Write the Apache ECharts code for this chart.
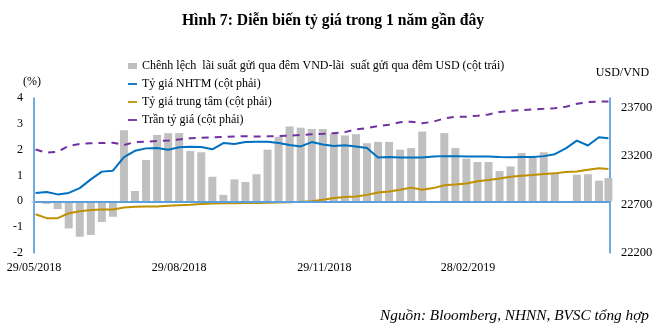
<!DOCTYPE html>
<html>
<head>
<meta charset="utf-8">
<script src="https://cdn.jsdelivr.net/npm/echarts@6/dist/echarts.min.js"></script>
<style>html,body{margin:0;padding:0;background:#fff}#c{width:666px;height:332px}</style>
</head>
<body>
<div id="c"></div>
<script>
// Weekly observations (mid-week dates)
const weeks = ['2018-05-30','2018-06-06','2018-06-13','2018-06-20','2018-06-27','2018-07-04','2018-07-11','2018-07-18','2018-07-25','2018-08-01','2018-08-08','2018-08-15','2018-08-22','2018-08-29','2018-09-05','2018-09-12','2018-09-19','2018-09-26','2018-10-03','2018-10-10','2018-10-17','2018-10-24','2018-10-31','2018-11-07','2018-11-14','2018-11-21','2018-11-28','2018-12-05','2018-12-12','2018-12-19','2018-12-26','2019-01-02','2019-01-09','2019-01-16','2019-01-23','2019-01-30','2019-02-06','2019-02-13','2019-02-20','2019-02-27','2019-03-06','2019-03-13','2019-03-20','2019-03-27','2019-04-03','2019-04-10','2019-04-17','2019-04-24','2019-05-01','2019-05-08','2019-05-15','2019-05-22','2019-05-28'];
// Spread, overnight VND rate minus overnight USD rate (%), left axis
const spread = [-0.06,-0.1,-0.3,-1.05,-1.37,-1.3,-0.8,-0.6,2.75,0.4,1.6,2.57,2.64,2.64,1.95,1.9,0.95,0.25,0.85,0.75,1.05,2.0,2.5,2.9,2.85,2.8,2.8,2.62,2.55,2.6,2.25,2.3,2.3,2.0,2.06,2.7,null,2.64,2.06,1.65,1.52,1.52,1.17,1.35,1.87,1.7,1.9,1.1,null,1.03,1.05,0.8,0.9];
// Commercial bank rate (right axis)
const nhtm = [22820,22830,22805,22820,22870,22960,23040,23050,23190,23255,23280,23285,23265,23292,23297,23295,23270,23335,23325,23345,23348,23349,23335,23315,23300,23345,23320,23305,23312,23300,23285,23185,23190,23185,23185,23185,23195,23200,23200,23196,23196,23195,23190,23188,23190,23192,23200,23220,23280,23360,23310,23395,23385];
// Central rate (right axis)
const central = [22600,22560,22560,22610,22630,22645,22648,22650,22670,22678,22680,22680,22688,22693,22698,22705,22710,22713,22713,22715,22716,22718,22720,22724,22728,22735,22750,22768,22777,22784,22800,22825,22835,22852,22875,22852,22870,22900,22908,22918,22940,22953,22970,22988,22998,23005,23015,23022,23035,23042,23060,23074,23066];
// Ceiling rate (right axis)
const ceiling = [23268,23235,23245,23305,23325,23333,23335,23338,23315,23345,23350,23355,23360,23372,23384,23390,23394,23398,23403,23405,23402,23404,23407,23412,23418,23425,23430,23437,23448,23475,23490,23510,23525,23550,23555,23540,23555,23590,23605,23607,23618,23630,23655,23668,23675,23683,23688,23695,23710,23740,23758,23762,23765];
const xRange = ['2018-05-29','2019-05-29'];
const xTickDates = ['2018-05-29','2018-08-29','2018-11-29','2019-02-28'];
const leftTicks = {min:-2, max:4, interval:1};
const rightTicks = {min:22200, max:23800, interval:500};
const names = ['Chênh lệch  lãi suất gửi qua đêm VND-lãi  suất gửi qua đêm USD (cột trái)','Tỷ giá NHTM (cột phải)','Tỷ giá trung tâm (cột phải)','Trần tỷ giá (cột phải)'];

const FONT = 'Liberation Serif';
const ts = s => { const p = s.split('-').map(Number); return Date.UTC(p[0], p[1]-1, p[2]); };
const pair = arr => weeks.map((d,i)=>[ts(d), arr[i]]);
const pad = n => (n<10?'0':'')+n;
const chart = echarts.init(document.getElementById('c'), null, {renderer:'canvas'});
const axisBlue = '#3F8ED6';
const lineIcon = 'path://M0,0H10V2H0Z';
chart.setOption({
  animation:false,
  backgroundColor:'#fff',
  title:[
    {text:'Hình 7: Diễn biến tỷ giá trong 1 năm gần đây', left:'center', top:8,
     textStyle:{fontFamily:FONT, fontSize:15.7, fontWeight:'bold', color:'#000'}},
    {text:'Nguồn: Bloomberg, NHNN, BVSC tổng hợp', right:12, bottom:4,
     textStyle:{fontFamily:FONT, fontSize:15.3, fontStyle:'italic', fontWeight:'normal', color:'#000'}}
  ],
  legend:{orient:'vertical', left:123, top:55, itemWidth:9, itemHeight:6, itemGap:6,
    textStyle:{fontFamily:FONT, fontSize:12, color:'#000'},
    data:[{name:names[0], icon:'rect'}, {name:names[1], icon:lineIcon}, {name:names[2], icon:lineIcon}, {name:names[3], icon:lineIcon}]},
  grid:{left:34, right:56, top:98, bottom:79},
  xAxis:{type:'value', min:ts(xRange[0]), max:ts(xRange[1]),
    axisLine:{show:false, onZero:false}, axisTick:{show:false}, splitLine:{show:false},
    axisLabel:{customValues:xTickDates.map(ts), margin:9, fontFamily:FONT, fontSize:12, color:'#000',
      formatter:v=>{const d=new Date(v);return pad(d.getUTCDate())+'/'+pad(d.getUTCMonth()+1)+'/'+d.getUTCFullYear();}}},
  yAxis:[
    {type:'value', min:leftTicks.min, max:leftTicks.max, interval:leftTicks.interval, position:'left',
     name:'(%)', nameLocation:'end', nameGap:10, nameTextStyle:{fontFamily:FONT, fontSize:12, color:'#000', align:'center', padding:[0,4,0,0]},
     axisLine:{show:true, lineStyle:{color:axisBlue, width:1.5}}, axisTick:{show:false}, splitLine:{show:false},
     axisLabel:{margin:11, fontFamily:FONT, fontSize:12, color:'#000'}},
    {type:'value', min:rightTicks.min, max:rightTicks.max, interval:rightTicks.interval, position:'right',
     name:'USD/VND', nameLocation:'end', nameGap:19, nameTextStyle:{fontFamily:FONT, fontSize:12, color:'#000', align:'center', padding:[0,0,0,25]},
     axisLine:{show:true, lineStyle:{color:axisBlue, width:1.5}}, axisTick:{show:false}, splitLine:{show:false},
     axisLabel:{margin:11, fontFamily:FONT, fontSize:12.5, color:'#000', showMaxLabel:false, formatter:v=>String(v)}}
  ],
  series:[
    {name:names[0], type:'bar', yAxisIndex:0, barWidth:8, itemStyle:{color:'#C0C0C0'}, data:pair(spread),
     markLine:{silent:true, symbol:['none','none'], label:{show:false}, lineStyle:{color:'#5B9FDC', width:2, type:'solid'}, data:[{yAxis:0}]}},
    {name:names[1], type:'line', yAxisIndex:1, symbol:'none', lineStyle:{color:'#0070C0', width:2}, itemStyle:{color:'#0070C0'}, data:pair(nhtm)},
    {name:names[2], type:'line', yAxisIndex:1, symbol:'none', lineStyle:{color:'#BF9000', width:2}, itemStyle:{color:'#BF9000'}, data:pair(central)},
    {name:names[3], type:'line', yAxisIndex:1, symbol:'none', lineStyle:{color:'#7030A0', width:2, type:[7,6]}, itemStyle:{color:'#7030A0'}, data:pair(ceiling)}
  ]
});
</script>
</body>
</html>
